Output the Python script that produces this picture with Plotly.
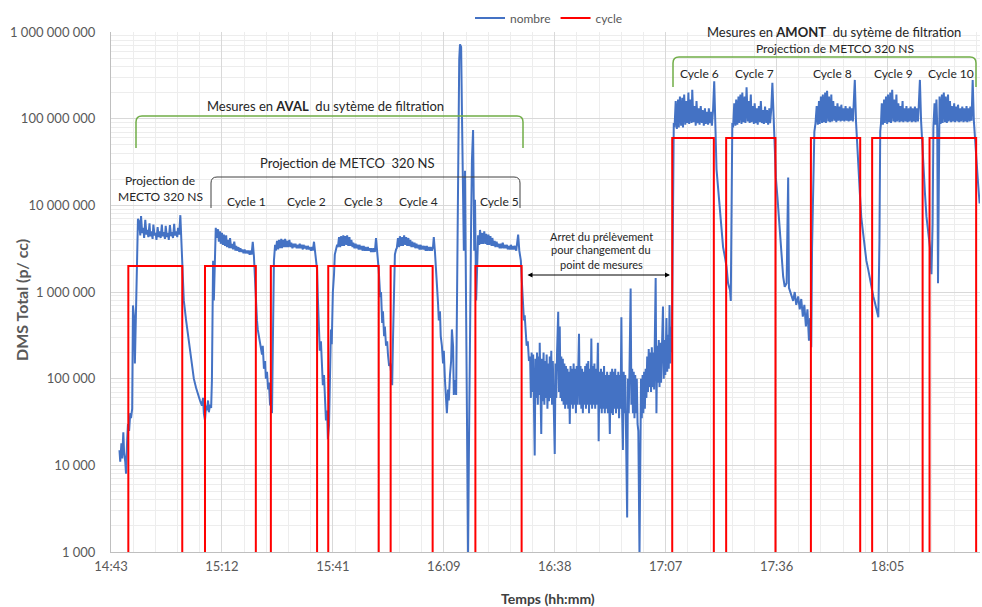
import plotly.graph_objects as go

# ---------------- DATA ----------------
# time in minutes after 14:00, value in particles / cc
seg_start = [(45.4,1.5e4),(45.6,1.1e4),(45.9,1.8e4),(46.1,1.2e4),(46.4,2.4e4),(46.6,1.4e4),(46.9,1.1e4),
             (47.1,8.0e3),(47.4,2.0e4),(47.6,3.0e4),(47.9,2.5e4),(48.2,4.0e4),(48.4,3.5e4),(48.7,4.5e4),
             (48.9,7.0e5),(49.2,5.0e5),(49.4,1.5e5),(49.7,8.0e5),(50.0,5.0e6),(50.2,7.0e6)]
seg_proj = [(50.5,6.5e6),(50.8,4.5e6),(51.0,7.5e6),(51.3,4.8e6),(51.6,5.5e6),(51.8,4.2e6),(52.1,6.8e6),
            (52.4,4.6e6),(52.6,5.2e6),(52.9,4.3e6),(53.2,6.2e6),(53.4,4.4e6),(53.7,5.0e6),(54.0,4.1e6),
            (54.2,6.0e6),(54.5,4.5e6),(54.8,4.8e6),(55.0,4.0e6),(55.3,5.6e6),(55.6,4.3e6),(55.8,5.0e6),
            (56.1,4.2e6),(56.4,6.0e6),(56.6,4.4e6),(56.9,4.9e6),(57.2,4.1e6),(57.4,5.8e6),(57.7,4.3e6),
            (58.0,4.8e6),(58.2,4.0e6),(58.5,5.9e6),(58.8,4.4e6),(59.0,4.9e6),(59.3,4.2e6),(59.6,6.1e6),
            (59.8,4.5e6),(60.1,5.0e6),(60.4,4.3e6),(60.6,5.5e6),(60.9,4.6e6),(61.2,7.7e6),(61.4,5.0e6),
            (61.6,3.0e6),(61.9,1.4e6),(62.1,8.0e5),(62.7,4.7e5),(63.2,3.1e5),(63.7,2.1e5),(64.2,1.4e5),
            (64.7,1.0e5),(65.3,7.8e4),(65.8,6.5e4),(66.3,5.6e4),(66.8,4.9e4),(67.1,6.0e4),(67.3,4.0e4),
            (67.6,3.3e4),(67.9,4.9e4),(68.1,4.3e4),(68.4,5.6e4),(68.6,4.1e4),(68.9,5.0e4),(69.2,4.6e4),
            (69.4,9.6e4),(69.7,2.3e6),(69.9,8.0e5),(70.2,4.0e6),(70.4,5.5e6)]
seg_cycle1 = [(70.7,4.2e6),(71.0,5.3e6),(71.2,3.8e6),(71.5,5.0e6),(71.7,3.6e6),(72.0,4.8e6),(72.3,3.5e6),
              (72.5,4.6e6),(72.8,3.4e6),(73.1,4.5e6),(73.3,3.3e6),(73.6,4.0e6),(73.9,3.2e6),(74.1,4.2e6),
              (74.4,3.2e6),(74.7,3.6e6),(74.9,3.1e6),(75.2,3.8e6),(75.5,3.0e6),(75.7,3.4e6),(76.0,3.0e6),
              (76.3,3.3e6),(76.5,2.9e6),(76.8,3.2e6),(77.1,2.9e6),(77.3,3.1e6),(77.6,2.8e6),(77.9,3.1e6),
              (78.1,2.8e6),(78.4,3.0e6),(78.7,2.8e6),(78.9,3.0e6),(79.2,2.7e6),(79.5,3.0e6),(79.7,2.7e6),
              (80.0,3.8e6),(80.3,2.6e6),
              (80.6,1.4e6),(80.8,6.6e5),(81.1,4.7e5),(81.3,3.7e5),(81.9,2.7e5),(82.4,1.9e5),(82.6,2.4e5),
              (82.9,1.3e5),(83.2,1.6e5),(83.4,1.0e5),(83.7,1.2e5),(84.0,7.5e4),(84.2,9.0e4),(84.5,4.9e4),
              (84.7,6.5e4),(85.0,4.0e4),(85.2,2.1e5),(85.5,2.3e6),(85.8,3.5e6)]
seg_cycle2 = [(86.0,3.0e6),(86.3,3.9e6),(86.6,3.1e6),(86.8,4.0e6),(87.1,3.2e6),(87.4,4.1e6),(87.6,3.2e6),
              (87.9,4.0e6),(88.2,3.3e6),(88.4,4.1e6),(88.7,3.3e6),(89.0,3.9e6),(89.2,3.3e6),(89.5,4.0e6),
              (89.8,3.3e6),(90.0,3.7e6),(90.3,3.2e6),(90.6,3.6e6),(90.8,3.3e6),(91.1,3.6e6),(91.4,3.2e6),
              (91.6,3.5e6),(91.9,3.2e6),(92.2,3.6e6),(92.4,3.2e6),(92.7,3.5e6),(93.0,3.1e6),(93.2,3.5e6),
              (93.5,3.2e6),(93.8,3.4e6),(94.0,3.1e6),(94.3,3.4e6),(94.6,3.1e6),(94.8,3.3e6),(95.1,3.0e6),
              (95.4,3.3e6),(95.6,3.0e6),(95.9,3.8e6),(96.2,2.8e6),
              (96.7,1.8e6),(96.9,8.7e5),(97.2,3.7e5),(97.4,2.1e5),(97.7,2.7e5),(98.0,1.4e5),(98.2,8.4e4),
              (98.5,1.1e5),(98.7,5.6e4),(99.0,3.3e4),(99.3,4.3e4),(99.5,2.0e4),(99.8,2.9e4),(100.0,9.6e4),
              (100.3,3.7e5),(100.5,2.5e5),(100.8,1.0e6),(101.1,1.6e6),(101.3,2.7e6),(101.9,3.5e6)]
seg_cycle3 = [(102.1,3.3e6),(102.4,4.3e6),(102.7,3.3e6),(102.9,4.4e6),(103.2,3.4e6),(103.5,4.5e6),(103.7,3.4e6),
              (104.0,4.4e6),(104.3,3.5e6),(104.5,4.5e6),(104.8,3.4e6),(105.1,4.3e6),(105.3,3.4e6),(105.6,4.0e6),
              (105.9,3.3e6),(106.1,3.7e6),(106.4,3.2e6),(106.7,3.6e6),(106.9,3.2e6),(107.2,3.5e6),(107.5,3.1e6),
              (107.7,3.5e6),(108.0,3.1e6),(108.3,3.4e6),(108.5,3.0e6),(108.8,3.4e6),(109.1,3.0e6),(109.3,3.3e6),
              (109.6,3.0e6),(109.9,3.3e6),(110.1,3.0e6),(110.4,3.2e6),(110.7,2.9e6),(110.9,3.2e6),(111.2,2.9e6),
              (111.5,3.2e6),(111.7,2.9e6),(112.0,4.2e6),(112.3,3.0e6),
              (112.7,1.8e6),(113.1,8.7e5),(113.3,1.0e6),(113.6,4.4e5),(113.8,6.0e5),(114.1,3.1e5),(114.3,4.0e5),
              (114.6,2.4e5),(114.9,2.7e5),(115.1,1.9e5),(115.4,1.4e5),(115.7,1.5e5),(115.9,1.1e5),(116.2,8.4e4),
              (116.4,2.7e5),(116.7,1.4e6),(116.9,2.7e6),(117.2,3.1e6)]
seg_cycle4 = [(117.4,3.2e6),(117.7,4.2e6),(118.0,3.3e6),(118.2,4.4e6),(118.5,3.4e6),(118.8,4.3e6),(119.0,3.4e6),
              (119.3,4.5e6),(119.6,3.5e6),(119.8,4.3e6),(120.1,3.4e6),(120.4,4.2e6),(120.6,3.4e6),(120.9,4.0e6),
              (121.2,3.3e6),(121.4,3.8e6),(121.7,3.3e6),(122.0,3.7e6),(122.2,3.2e6),(122.5,3.6e6),(122.8,3.2e6),
              (123.0,3.5e6),(123.3,3.1e6),(123.6,3.5e6),(123.8,3.1e6),(124.1,3.4e6),(124.4,3.1e6),(124.6,3.4e6),
              (124.9,3.0e6),(125.2,3.4e6),(125.4,3.0e6),(125.7,3.3e6),(126.0,3.0e6),(126.2,3.3e6),(126.5,3.0e6),
              (126.8,3.3e6),(127.0,4.3e6),(127.3,2.9e6),
              (127.8,1.4e6),(128.1,7.4e5),(128.3,4.7e5),(128.6,6.0e5),(128.8,3.1e5),(129.1,2.4e5),(129.4,1.5e5),
              (129.6,2.1e5),(129.9,9.6e4),(130.1,6.5e4),(130.4,4.0e4),(130.7,7.5e4),(130.9,5.6e4),(131.2,1.1e5),
              (131.5,1.6e5),(131.7,3.7e5),(132.0,2.4e5),(132.2,6.5e4),(132.5,9.6e4),(132.8,6.5e4),(133.0,8.0e5),
              (133.3,4.4e7),(133.6,4.8e8),(133.8,7.2e8),(134.1,6.7e8),(134.3,1.26e8),(134.6,1.9e7),(134.8,3.0e6),
              (135.1,2.5e7),(135.4,8.0e5),(135.6,3.3e4),(135.9,9.0e2),(136.1,1.2e4),(136.4,8.0e5),(136.7,6.8e6),
              (136.9,3.3e7),(137.2,7.4e7),(137.5,3.0e6),(137.7,1.16e7),(138.0,8.0e5),(138.2,2.3e6),(138.5,4.5e6)]
seg_cycle5 = [(138.8,3.5e6),(139.0,5.2e6),(139.3,3.6e6),(139.6,4.8e6),(139.8,3.6e6),(140.1,5.0e6),(140.4,3.6e6),
              (140.6,4.7e6),(140.9,3.5e6),(141.2,4.6e6),(141.4,3.5e6),(141.7,4.4e6),(142.0,3.4e6),(142.2,4.2e6),
              (142.5,3.4e6),(142.8,3.9e6),(143.0,3.3e6),(143.3,3.8e6),(143.6,3.3e6),(143.8,3.6e6),(144.1,3.2e6),
              (144.4,3.6e6),(144.6,3.2e6),(144.9,3.7e6),(145.2,3.2e6),(145.4,3.5e6),(145.7,3.2e6),(146.0,3.5e6),
              (146.2,3.1e6),(146.5,3.4e6),(146.8,3.1e6),(147.0,3.5e6),(147.3,3.1e6),(147.6,3.4e6),(147.8,3.1e6),
              (148.1,3.4e6),(148.4,3.0e6),(148.6,3.4e6),(148.9,4.6e6),(149.2,3.0e6),
              (149.6,2.3e6),(149.8,1.5e6),(150.1,8.0e5),(150.4,4.7e5),(150.6,5.4e5),(150.9,3.1e5),(151.1,2.4e5),
              (151.4,2.7e5),(151.7,1.6e5)]
seg_pause = [(152.0,1.8e5),(152.2,6.0e4),(152.4,2.0e5),(152.6,7.0e4),(152.8,1.9e5),(153.0,5.5e4),(153.2,1.3e4),
             (153.4,1.7e5),(153.6,6.0e4),(153.8,2.0e5),(154.0,5.0e4),(154.2,1.8e5),(154.4,6.5e4),(154.5,2.6e5),
             (154.7,5.0e4),(154.9,2.3e4),(155.1,1.7e5),(155.3,5.5e4),(155.5,2.0e5),(155.7,5.0e4),(155.9,1.6e5),
             (156.1,6.0e4),(156.3,1.9e5),(156.5,4.5e4),(156.7,1.5e5),(156.9,5.5e4),(157.1,1.8e5),(157.3,6.0e4),
             (157.5,2.1e5),(157.7,5.0e4),(157.9,1.6e5),(158.1,4.0e4),(158.4,1.35e4),(158.6,1.5e5),(158.8,6.0e4),
             (159.0,2.0e5),(159.3,5.9e5),(159.5,7.0e4),(159.7,4.0e5),(159.9,6.0e4),(160.1,1.8e5),(160.3,5.5e4),
             (160.5,1.7e5),(160.7,5.0e4),(160.9,1.5e5),(161.1,4.5e4),(161.3,1.4e5),(161.5,5.0e4),(161.7,1.3e5),
             (161.9,4.5e4),(162.1,1.2e5),(162.3,3.0e4),(162.5,1.4e5),(162.7,5.0e4),(162.9,1.3e5),(163.1,4.5e4),
             (163.3,1.5e5),(163.5,5.0e4),(163.7,1.3e5),(163.9,4.0e4),(164.1,1.4e5),(164.3,5.0e4),(164.5,1.6e5),
             (164.7,3.3e5),(164.9,5.0e4),(165.1,1.4e5),(165.3,4.5e4),(165.5,1.3e5),(165.7,4.0e4),(165.9,1.2e5),
             (166.1,5.0e4),(166.3,1.4e5),(166.5,4.5e4),(166.7,1.5e5),(166.9,5.0e4),(167.1,1.6e5),(167.3,4.0e4),
             (167.5,1.3e5),(167.7,5.0e4),(167.9,2.9e5),(168.1,4.5e4),(168.3,1.4e5),(168.5,5.0e4),(168.7,1.5e5),
             (168.9,4.5e4),(169.1,1.3e5),(169.3,5.0e4),(169.6,2.6e5),(169.8,1.9e4),(170.0,1.2e5),(170.2,4.5e4),
             (170.4,1.3e5),(170.6,4.0e4),(170.8,1.2e5),(171.0,4.5e4),(171.2,1.4e5),(171.4,4.0e4),(171.6,1.1e5),
             (171.8,4.5e4),(172.0,1.2e5),(172.2,4.0e4),(172.4,1.1e5),(172.7,2.3e4),(172.9,1.2e5),(173.1,4.0e4),
             (173.3,1.3e5),(173.5,3.8e4),(173.7,1.2e5),(173.9,4.5e4),(174.1,1.3e5),(174.3,4.0e4),(174.5,1.1e5),
             (174.7,4.5e4),(174.9,1.2e5),(175.1,3.5e4),(175.3,1.1e5),(175.5,4.5e4),(175.7,5.1e5),(175.9,4.0e4),
             (176.1,1.5e4),(176.3,1.2e5),(176.5,4.0e4),(176.7,1.1e5),(176.9,3.5e4),(177.2,2.5e3),(177.4,1.0e5),
             (177.6,4.0e4),(177.8,1.2e5),(178.1,1.1e6),(178.3,5.0e4),(178.5,1.3e5),(178.7,4.0e4),(178.9,1.2e5),
             (179.1,3.5e4),(179.3,1.1e5),(179.5,4.0e4),(179.7,1.0e5),(179.9,3.0e4),(180.1,2.5e4),(180.4,9.0e2),
             (180.6,3.0e4),(180.8,1.0e5),(181.0,3.5e4),(181.2,1.1e5),(181.4,4.0e4),(181.6,1.2e5),(181.8,4.5e4),
             (182.0,1.3e5),(182.2,6.0e4),(182.4,1.8e5),(182.6,7.0e4),(182.8,2.2e5),(183.0,8.0e4),(183.2,2.0e5),
             (183.4,7.0e4),(183.6,2.3e5),(183.8,8.0e4),(184.0,2.0e5),(184.2,7.5e4),(184.4,2.5e5),(184.6,1.45e6),
             (184.8,4.0e4),(185.0,2.4e5),(185.2,9.0e4),(185.4,2.8e5),(185.6,8.0e4),(185.8,2.6e5),(186.0,9.0e4),
             (186.2,3.0e5),(186.5,6.8e5),(186.7,1.0e5),(186.9,2.8e5),(187.1,1.1e5),(187.4,5.0e5),(187.6,1.2e5),
             (187.8,3.2e5),(188.0,1.3e5),(188.2,7.1e5),(188.4,1.5e5),(188.6,4.0e5),(188.8,2.0e5),(188.9,7.9e5),
             (189.1,4.0e7),(189.3,8.9e7)]
seg_cycle6 = [(189.5,7.9e7),(189.8,1.6e8),(190.1,7.6e7),(190.4,1.66e8),(190.6,7.9e7),(190.9,1.8e8),(191.2,8.3e7),
              (191.5,1.74e8),(191.7,7.9e7),(192.0,1.9e8),(192.3,8.5e7),(192.5,1.6e8),(192.8,8.9e7),(193.1,2.0e8),
              (193.3,8.7e7),(193.6,1.66e8),(193.9,8.9e7),(194.1,2.15e8),(194.4,9.1e7),(194.7,1.4e8),(195.0,8.3e7),
              (195.2,1.6e8),(195.5,8.9e7),(195.8,1.32e8),(196.0,8.5e7),(196.3,1.4e8),(196.6,8.9e7),(196.8,1.26e8),
              (197.1,8.3e7),(197.4,1.32e8),(197.6,8.7e7),(197.9,1.2e8),(198.2,8.5e7),(198.4,1.32e8),(198.7,8.9e7),
              (199.0,1.2e8),(199.2,8.3e7),(199.5,1.26e8),(199.8,2.7e8),(200.0,8.9e7),
              (200.4,2.6e7),(200.8,1.6e7),(201.3,8.7e6),(201.7,5.6e6),(202.1,3.3e6),(202.6,2.5e6),(203.0,1.95e6),
              (203.4,1.26e6),(203.9,1.05e6),(204.1,7.9e5),(204.3,6.3e7),(204.5,8.9e7)]
seg_cycle7 = [(204.7,7.9e7),(205.0,1.5e8),(205.3,8.3e7),(205.5,1.66e8),(205.8,8.5e7),(206.1,1.8e8),(206.3,8.9e7),
              (206.6,1.9e8),(206.9,8.7e7),(207.1,2.0e8),(207.4,9.1e7),(207.7,1.8e8),(207.9,8.9e7),(208.2,2.3e8),
              (208.5,9.3e7),(208.7,1.6e8),(209.0,8.9e7),(209.3,1.9e8),(209.5,9.1e7),(209.8,1.4e8),(210.1,8.7e7),
              (210.3,1.5e8),(210.6,8.9e7),(210.9,1.32e8),(211.1,8.5e7),(211.4,1.4e8),(211.7,9.1e7),(211.9,1.6e8),
              (212.2,8.9e7),(212.5,1.26e8),(212.7,8.7e7),(213.0,1.38e8),(213.3,8.9e7),(213.5,1.26e8),(213.8,8.5e7),
              (214.1,1.32e8),(214.3,8.9e7),(214.6,1.26e8),(214.9,2.6e8),(215.2,9.5e7),
              (215.5,4.0e7),(215.8,2.1e7),(216.2,1.26e7),(216.8,5.6e6),(217.2,3.2e6),(217.7,1.5e6),(218.1,1.15e6),
              (218.6,1.26e6),(219.0,2.1e7),(219.2,1.12e6),(219.4,1.05e6),(219.9,8.9e5),(220.3,7.9e5),(220.7,1.0e6),
              (221.1,7.1e5),(221.6,8.9e5),(222.0,6.3e5),(222.4,8.3e5),(222.8,5.2e5),(223.2,7.1e5),(223.6,4.0e5),
              (224.0,6.3e5),(224.4,2.75e5),(224.7,5.0e5),(225.0,2.3e5),(225.2,3.2e6),(225.5,2.5e7),(225.8,7.1e7),
              (226.1,8.9e7)]
seg_cycle8 = [(226.4,1.4e8),(226.7,8.5e7),(227.0,1.6e8),(227.2,8.7e7),(227.5,1.8e8),(227.8,8.9e7),(228.0,1.9e8),
              (228.3,9.1e7),(228.6,2.0e8),(228.8,8.9e7),(229.1,2.1e8),(229.4,9.3e7),(229.6,1.8e8),(229.9,9.1e7),
              (230.2,1.9e8),(230.4,9.3e7),(230.7,1.6e8),(231.0,9.5e7),(231.2,1.4e8),(231.5,9.1e7),(231.8,1.5e8),
              (232.0,9.5e7),(232.3,1.38e8),(232.6,9.3e7),(232.8,1.45e8),(233.1,9.5e7),(233.4,1.32e8),(233.6,9.3e7),
              (233.9,1.4e8),(234.2,9.5e7),(234.4,1.32e8),(234.7,9.3e7),(235.0,1.38e8),(235.2,9.5e7),(235.5,1.32e8),
              (235.8,9.3e7),(236.0,1.4e8),(236.3,2.8e8),(236.6,9.5e7),
              (237.0,5.0e7),(237.2,3.3e7),(237.6,1.4e7),(238.0,7.1e6),(238.5,4.4e6),(238.9,3.2e6),(239.3,2.3e6),
              (239.8,1.8e6),(240.2,1.4e6),(240.6,1.12e6),(241.1,8.9e5),(241.5,7.6e5),(241.9,6.6e5),(242.2,5.6e5),
              (242.4,5.1e5),(242.7,4.0e6),(242.9,7.1e7)]
seg_cycle9 = [(243.1,8.9e7),(243.3,1.5e8),(243.6,8.5e7),(243.9,1.66e8),(244.1,8.9e7),(244.4,1.8e8),(244.7,8.7e7),
              (244.9,1.9e8),(245.2,9.1e7),(245.5,2.0e8),(245.7,8.9e7),(246.0,2.15e8),(246.3,9.3e7),(246.5,1.66e8),
              (246.8,9.1e7),(247.1,1.9e8),(247.3,9.3e7),(247.6,1.5e8),(247.9,9.1e7),(248.1,1.4e8),(248.4,9.3e7),
              (248.7,1.6e8),(248.9,9.1e7),(249.2,1.32e8),(249.5,9.3e7),(249.7,1.4e8),(250.0,9.1e7),(250.3,1.32e8),
              (250.5,9.3e7),(250.8,1.38e8),(251.1,9.1e7),(251.3,1.32e8),(251.6,9.3e7),(251.9,1.38e8),(252.1,9.1e7),
              (252.4,1.32e8),(252.7,9.3e7),(252.9,1.4e8),(253.2,2.8e8),(253.5,9.5e7),
              (253.8,5.0e7),(254.0,3.3e7),(254.5,1.4e7),(254.9,7.4e6),(255.3,5.0e6),(255.8,3.3e6),(256.0,2.2e6),
              (256.2,1.6e6),(256.5,6.3e6),(256.7,7.9e7)]
seg_cycle10 = [(257.0,1.5e8),(257.2,8.5e7),(257.5,1.66e8),(257.7,7.9e7),(257.9,1.26e6),(258.1,7.9e7),(258.3,1.8e8),
               (258.6,8.7e7),(258.9,1.9e8),(259.1,8.9e7),(259.4,2.0e8),(259.7,9.1e7),(259.9,1.8e8),(260.2,8.9e7),
               (260.5,1.9e8),(260.7,9.3e7),(261.0,1.6e8),(261.3,9.1e7),(261.5,1.4e8),(261.8,9.3e7),(262.1,1.5e8),
               (262.3,9.1e7),(262.6,1.38e8),(262.9,9.3e7),(263.1,1.45e8),(263.4,9.1e7),(263.7,1.32e8),(263.9,9.3e7),
               (264.2,1.38e8),(264.5,9.1e7),(264.7,1.32e8),(265.0,9.3e7),(265.3,1.4e8),(265.5,9.1e7),(265.8,1.32e8),
               (266.1,9.3e7),(266.3,1.38e8),(266.6,9.5e7),(266.9,2.8e8),(267.2,9.5e7),
               (267.5,5.6e7),(267.9,3.3e7),(268.3,1.8e7),(268.7,1.05e7)]

# cycle (red) : on/off pulses
cycle_start = [47.7, 67.6, 84.7, 99.6, 115.8, 137.8, 188.9, 202.9, 224.9, 240.8, 255.7]
cycle_end   = [61.7, 80.8, 96.7, 112.7, 126.7, 149.8, 199.7, 215.7, 237.7, 253.9, 267.8]
cycle_level = [2e6, 2e6, 2e6, 2e6, 2e6, 2e6, 6e7, 6e7, 6e7, 6e7, 6e7]
cycle_off = 1

x_tick_labels = ["14:43", "15:12", "15:41", "16:09", "16:38", "17:07", "17:36", "18:05"]
y_tick_values = [1e3, 1e4, 1e5, 1e6, 1e7, 1e8, 1e9]
y_tick_labels = ["1 000", "10 000", "100 000", "1 000 000", "10 000 000", "100 000 000", "1 000 000 000"]

# ---------------- BUILD ----------------
segments = [seg_start, seg_proj, seg_cycle1, seg_cycle2, seg_cycle3, seg_cycle4, seg_cycle5,
            seg_pause, seg_cycle6, seg_cycle7, seg_cycle8, seg_cycle9, seg_cycle10]
nx, ny = [], []
for seg in segments:
    for t, v in seg:
        nx.append(t)
        ny.append(v)

cx, cy = [], []
for s, e, lv in zip(cycle_start, cycle_end, cycle_level):
    cx += [s, s, e, e]
    cy += [cycle_off, lv, lv, cycle_off]

X_MIN, X_MAX = 43.2, 268.8           # 14:43:12 -> 18:28:48
MAJOR = 28.8                          # 0.02 day
tick_vals = [X_MIN + MAJOR * i for i in range(len(x_tick_labels))]

FONT = "Lato"
L, R, T, B = 111, 2, 32, 55
W, H = 982, 607
PW, PH = W - L - R, H - T - B


def px(X):
    return (X - L) / PW


def py(Y):
    return (H - B - Y) / PH


fig = go.Figure()
fig.add_trace(go.Scatter(x=nx, y=ny, mode="lines", name="nombre",
                         line=dict(color="#4472C4", width=2)))
fig.add_trace(go.Scatter(x=cx, y=cy, mode="lines", name="cycle",
                         line=dict(color="#FF0000", width=2)))

fig.update_layout(
    width=W, height=H,
    margin=dict(l=L, r=R, t=T, b=B, autoexpand=False),
    paper_bgcolor="white", plot_bgcolor="white",
    font=dict(family=FONT, color="#595959"),
    showlegend=True,
    legend=dict(orientation="h", x=px(470), y=py(18), xanchor="left", yanchor="middle",
                font=dict(size=12, color="#595959"), bgcolor="rgba(0,0,0,0)", tracegroupgap=0),
    xaxis=dict(range=[X_MIN, X_MAX], tickvals=tick_vals, ticktext=x_tick_labels, automargin=False,
               showgrid=True, gridcolor="#D9D9D9", gridwidth=1,
               minor=dict(tick0=X_MIN, dtick=MAJOR / 5, showgrid=True, gridcolor="#EDEDED", gridwidth=1),
               showline=True, linecolor="#BFBFBF", linewidth=1, ticks="", zeroline=False,
               ticklabelstandoff=2,
               tickfont=dict(size=13, color="#595959", family=FONT)),
    yaxis=dict(type="log", range=[3, 9], tickvals=y_tick_values, ticktext=y_tick_labels, automargin=False,
               showgrid=True, gridcolor="#D9D9D9", gridwidth=1,
               minor=dict(dtick="D1", showgrid=True, gridcolor="#EDEDED", gridwidth=1),
               showline=True, linecolor="#BFBFBF", linewidth=1, ticks="", zeroline=False,
               ticklabelstandoff=12,
               tickfont=dict(size=13, color="#595959", family=FONT)),
)

TXT = "#262626"

# axis titles
fig.add_annotation(x=px(21), y=py(300), xref="paper", yref="paper", text="<b>DMS Total (p/ cc)</b>",
                   textangle=-90, showarrow=False, xanchor="center", yanchor="middle",
                   font=dict(size=16, color="#595959", family=FONT))
fig.add_annotation(x=px(548), y=py(598), xref="paper", yref="paper", text="<b>Temps (hh:mm)</b>",
                   showarrow=False, xanchor="center", yanchor="middle",
                   font=dict(size=14, color="#404040", family=FONT))


def label(X, Y, text, size=12):
    fig.add_annotation(x=px(X), y=py(Y), xref="paper", yref="paper", text=text, showarrow=False,
                       xanchor="center", yanchor="middle", font=dict(size=size, color=TXT, family=FONT))


def bracket(X0, X1, Ytop, Ybot, color, width, r=6):
    p = (f"M {px(X0)},{py(Ybot)} L {px(X0)},{py(Ytop + r)} Q {px(X0)},{py(Ytop)} {px(X0 + r)},{py(Ytop)} "
         f"L {px(X1 - r)},{py(Ytop)} Q {px(X1)},{py(Ytop)} {px(X1)},{py(Ytop + r)} L {px(X1)},{py(Ybot)}")
    fig.add_shape(type="path", path=p, xref="paper", yref="paper", line=dict(color=color, width=width))


# AVAL
label(325, 106, "Mesures en <b>AVAL</b>  du sytème de filtration", 13)
bracket(136, 523, 116, 148, "#70AD47", 1.5)
label(347, 163, "Projection de METCO  320 NS", 13)
bracket(211, 520, 177, 208, "#404040", 1)
label(160, 180, "Projection de", 12)
label(160, 196, "MECTO 320 NS", 12)
for Xc, txt in [(246, "Cycle 1"), (306, "Cycle 2"), (363, "Cycle 3"), (418, "Cycle 4"), (499, "Cycle 5")]:
    label(Xc, 202, txt, 12)

# pause
label(601, 236, "Arret du prélèvement", 11)
label(601, 250, "pour changement du", 11)
label(601, 264, "point de mesures", 11)
fig.add_annotation(x=X_MIN + (670 - L) * (X_MAX - X_MIN) / PW, y=py(275), xref="x", yref="paper",
                   ax=X_MIN + (526 - L) * (X_MAX - X_MIN) / PW, ay=0, axref="x", ayref="pixel",
                   showarrow=True, arrowhead=2, arrowside="end+start", arrowsize=1, arrowwidth=1,
                   arrowcolor="#000000", text="")

# AMONT
label(834, 32, "Mesures en <b>AMONT</b>  du sytème de filtration", 13)
label(835, 48, "Projection de METCO 320 NS", 12)
bracket(673, 976, 57, 87, "#70AD47", 1.5)
for Xc, txt in [(699, "Cycle 6"), (754, "Cycle 7"), (832, "Cycle 8"), (893, "Cycle 9"), (951, "Cycle 10")]:
    label(Xc, 73, txt, 12)

fig.write_html("out.html", config={"displayModeBar": False},
               post_script="document.body.style.margin='0px';document.body.style.overflow='hidden';")
